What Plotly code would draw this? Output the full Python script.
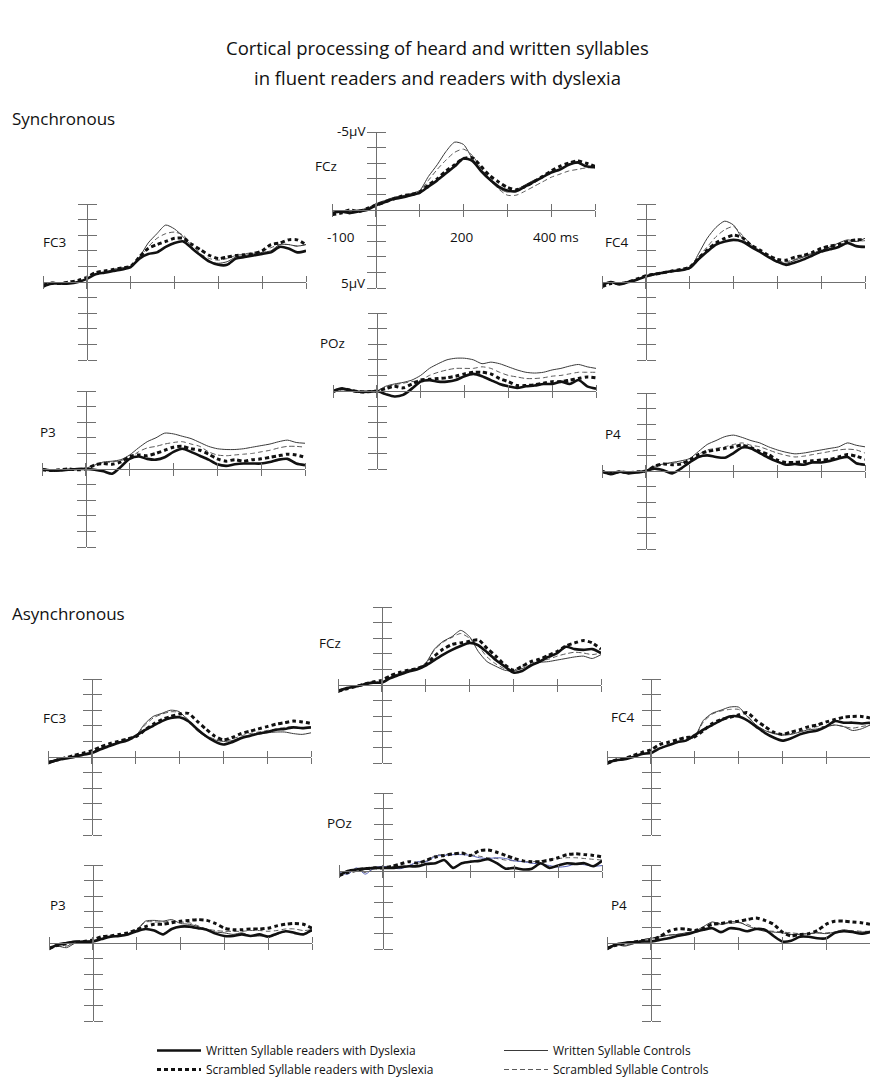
import plotly.graph_objects as go

# ---------------- data (µV, negative plotted upward) ----------------
TIME_MS = list(range(-100, 501, 20))
X_TICKS = [-100, 0, 100, 200, 300, 400, 500]
Y_TICKS = [-5, -4, -3, -2, -1, 0, 1, 2, 3, 4, 5]

CONDITIONS = [
    "Written Syllable readers with Dyslexia",
    "Written Syllable Controls",
    "Scrambled Syllable readers with Dyslexia",
    "Scrambled Syllable Controls",
]

# Synchronous
SYNC_FCZ_WD = [0.2, 0.1, 0.2, 0.1, 0.0, -0.3, -0.5, -0.7, -0.8, -0.95, -1.1, -1.5, -1.9, -2.35, -2.8, -3.3, -3.15, -2.5, -1.95, -1.5, -1.25, -1.2, -1.5, -1.8, -2.1, -2.4, -2.6, -2.9, -3.05, -2.8, -2.75]
SYNC_FCZ_WC = [0.2, 0.1, 0.1, 0.0, -0.1, -0.4, -0.6, -0.8, -0.9, -1.05, -1.25, -2.15, -2.9, -3.75, -4.35, -4.2, -3.3, -2.6, -1.9, -1.4, -1.15, -1.3, -1.6, -1.9, -2.1, -2.4, -2.6, -2.9, -3.0, -2.8, -2.7]
SYNC_FCZ_SD = [0.3, 0.2, 0.0, 0.1, -0.1, -0.3, -0.5, -0.7, -0.9, -1.0, -1.15, -1.6, -2.0, -2.5, -2.9, -3.3, -3.35, -2.8, -2.2, -1.8, -1.45, -1.3, -1.5, -1.8, -2.15, -2.5, -2.8, -3.0, -3.15, -3.0, -2.8]
SYNC_FCZ_SC = [0.2, 0.1, 0.1, 0.0, -0.1, -0.4, -0.6, -0.8, -0.9, -1.0, -1.2, -1.9, -2.6, -3.2, -3.7, -3.9, -3.5, -2.7, -2.0, -1.35, -0.95, -0.95, -1.2, -1.5, -1.8, -2.1, -2.3, -2.5, -2.6, -2.7, -2.7]

SYNC_FC3_WD = [0.3, 0.1, 0.1, 0.1, 0.0, -0.2, -0.5, -0.6, -0.7, -0.8, -0.95, -1.5, -1.8, -1.9, -2.25, -2.5, -2.6, -2.15, -1.7, -1.3, -1.1, -1.1, -1.5, -1.6, -1.7, -1.8, -1.9, -2.25, -2.15, -1.9, -2.0]
SYNC_FC3_WC = [0.3, 0.0, 0.1, 0.1, 0.0, -0.2, -0.5, -0.6, -0.8, -0.9, -1.0, -1.6, -2.5, -3.1, -3.65, -3.4, -2.9, -2.25, -1.7, -1.3, -1.2, -1.3, -1.6, -1.7, -1.8, -1.9, -2.0, -2.4, -2.4, -2.3, -2.4]
SYNC_FC3_SD = [0.2, 0.1, 0.1, 0.0, -0.1, -0.3, -0.6, -0.7, -0.8, -0.9, -1.0, -1.6, -2.15, -2.4, -2.6, -2.8, -2.8, -2.4, -2.05, -1.7, -1.5, -1.6, -1.7, -1.75, -1.8, -2.0, -2.4, -2.5, -2.7, -2.7, -2.4]
SYNC_FC3_SC = [0.3, 0.0, 0.1, 0.1, 0.0, -0.2, -0.5, -0.6, -0.8, -0.9, -1.0, -1.5, -2.25, -2.8, -3.1, -3.2, -3.0, -2.4, -1.8, -1.5, -1.4, -1.5, -1.7, -1.8, -1.9, -2.0, -2.2, -2.4, -2.4, -2.3, -2.4]

SYNC_FC4_WD = [0.2, 0.0, 0.15, 0.0, -0.15, -0.35, -0.5, -0.6, -0.7, -0.75, -0.9, -1.45, -1.95, -2.4, -2.6, -2.7, -2.6, -2.25, -1.95, -1.6, -1.3, -1.1, -1.25, -1.45, -1.7, -1.95, -2.1, -2.25, -2.5, -2.3, -2.25]
SYNC_FC4_WC = [0.2, 0.0, 0.1, 0.0, -0.2, -0.4, -0.5, -0.6, -0.7, -0.8, -0.85, -1.8, -2.8, -3.5, -3.9, -3.65, -2.8, -2.25, -1.95, -1.6, -1.3, -1.2, -1.4, -1.6, -1.8, -2.0, -2.25, -2.5, -2.7, -2.6, -2.8]
SYNC_FC4_SD = [0.3, 0.1, 0.1, 0.0, -0.2, -0.4, -0.5, -0.6, -0.7, -0.8, -0.95, -1.5, -2.05, -2.5, -2.8, -3.0, -2.85, -2.35, -2.05, -1.7, -1.45, -1.4, -1.6, -1.7, -1.9, -2.15, -2.3, -2.4, -2.6, -2.7, -2.7]
SYNC_FC4_SC = [0.2, 0.0, 0.1, 0.0, -0.2, -0.4, -0.5, -0.6, -0.7, -0.8, -0.9, -1.6, -2.25, -2.9, -3.35, -3.55, -3.0, -2.4, -2.0, -1.65, -1.35, -1.3, -1.45, -1.65, -1.85, -2.05, -2.2, -2.4, -2.55, -2.6, -2.65]

SYNC_POZ_WD = [0.0, -0.15, -0.05, 0.05, 0.05, 0.0, 0.2, 0.35, 0.25, -0.15, -0.6, -0.7, -0.6, -0.6, -0.7, -0.95, -1.1, -0.95, -0.7, -0.45, -0.3, -0.2, -0.3, -0.35, -0.45, -0.45, -0.6, -0.45, -0.7, -0.3, -0.15]
SYNC_POZ_WC = [0.0, -0.1, 0.0, 0.05, 0.1, 0.0, -0.3, -0.45, -0.55, -0.7, -1.0, -1.45, -1.75, -2.0, -2.1, -2.1, -2.0, -1.75, -1.85, -1.75, -1.55, -1.35, -1.2, -1.15, -1.2, -1.35, -1.45, -1.6, -1.7, -1.55, -1.45]
SYNC_POZ_SD = [0.05, -0.15, -0.05, 0.05, 0.05, 0.0, -0.15, -0.3, -0.2, -0.45, -0.7, -0.75, -0.8, -0.85, -0.95, -1.1, -1.2, -1.2, -1.1, -0.8, -0.6, -0.35, -0.35, -0.4, -0.5, -0.6, -0.6, -0.7, -0.8, -0.9, -0.85]
SYNC_POZ_SC = [0.0, -0.1, 0.0, 0.05, 0.1, 0.0, -0.25, -0.4, -0.5, -0.6, -0.7, -1.0, -1.2, -1.35, -1.45, -1.45, -1.45, -1.55, -1.45, -1.2, -1.0, -0.9, -0.8, -0.8, -0.85, -0.95, -1.0, -1.1, -1.2, -1.2, -1.2]

SYNC_P3_WD = [0.0, 0.1, 0.1, 0.05, 0.0, 0.0, 0.05, 0.15, 0.3, -0.15, -0.65, -0.8, -0.65, -0.6, -0.75, -1.1, -1.3, -1.1, -0.85, -0.6, -0.3, -0.2, -0.3, -0.35, -0.35, -0.35, -0.45, -0.6, -0.65, -0.35, -0.25]
SYNC_P3_WC = [0.0, 0.1, 0.1, 0.05, 0.0, -0.05, -0.25, -0.45, -0.5, -0.6, -0.9, -1.35, -1.75, -2.0, -2.3, -2.25, -2.1, -1.95, -1.7, -1.45, -1.3, -1.25, -1.25, -1.3, -1.4, -1.5, -1.6, -1.75, -1.85, -1.7, -1.65]
SYNC_P3_SD = [0.05, 0.1, 0.05, 0.0, 0.05, 0.0, -0.25, -0.35, -0.3, -0.45, -0.8, -0.9, -0.85, -1.0, -1.2, -1.4, -1.45, -1.3, -1.2, -0.95, -0.65, -0.5, -0.6, -0.5, -0.6, -0.65, -0.75, -0.85, -0.95, -0.9, -0.75]
SYNC_P3_SC = [0.0, 0.1, 0.1, 0.05, 0.0, -0.05, -0.25, -0.4, -0.45, -0.55, -0.7, -1.1, -1.35, -1.45, -1.6, -1.7, -1.75, -1.6, -1.45, -1.1, -0.9, -0.85, -0.9, -0.95, -1.0, -1.1, -1.2, -1.35, -1.45, -1.45, -1.4]

SYNC_P4_WD = [0.0, 0.2, 0.05, 0.15, 0.1, 0.0, -0.15, -0.05, 0.15, -0.15, -0.55, -0.9, -1.0, -0.9, -0.85, -1.15, -1.5, -1.45, -1.15, -0.85, -0.6, -0.4, -0.45, -0.4, -0.55, -0.55, -0.65, -0.8, -0.9, -0.5, -0.4]
SYNC_P4_WC = [0.0, 0.15, 0.05, 0.1, 0.05, -0.05, -0.3, -0.45, -0.55, -0.65, -0.8, -1.25, -1.7, -1.95, -2.2, -2.3, -2.15, -1.95, -1.8, -1.55, -1.35, -1.2, -1.1, -1.15, -1.25, -1.35, -1.45, -1.55, -1.8, -1.65, -1.55]
SYNC_P4_SD = [0.05, 0.15, 0.05, 0.1, 0.05, 0.0, -0.3, -0.45, -0.4, -0.45, -0.7, -1.05, -1.25, -1.35, -1.45, -1.55, -1.65, -1.5, -1.25, -1.05, -0.7, -0.55, -0.55, -0.6, -0.65, -0.7, -0.75, -0.9, -1.05, -0.95, -0.75]
SYNC_P4_SC = [0.0, 0.15, 0.05, 0.1, 0.05, -0.05, -0.3, -0.45, -0.5, -0.55, -0.55, -1.05, -1.35, -1.45, -1.55, -1.7, -1.8, -1.65, -1.55, -1.35, -1.15, -1.0, -0.9, -0.95, -1.05, -1.15, -1.25, -1.35, -1.4, -1.35, -1.15]

# Asynchronous
ASYNC_FCZ_WD = [0.4, 0.2, 0.1, -0.05, -0.15, -0.15, -0.45, -0.65, -0.85, -1.0, -1.25, -1.6, -1.95, -2.25, -2.5, -2.7, -2.55, -2.1, -1.6, -1.2, -0.8, -0.9, -1.25, -1.5, -1.8, -2.05, -2.45, -2.3, -2.25, -2.3, -2.05]
ASYNC_FCZ_WC = [0.3, 0.2, 0.05, -0.05, -0.2, -0.15, -0.5, -0.75, -0.95, -1.05, -1.4, -2.3, -2.8, -3.1, -3.5, -3.1, -2.15, -1.5, -1.2, -0.95, -0.9, -1.05, -1.3, -1.45, -1.5, -1.6, -1.7, -1.8, -1.85, -1.7, -1.95]
ASYNC_FCZ_SD = [0.4, 0.25, 0.1, -0.05, -0.2, -0.3, -0.6, -0.8, -0.95, -1.05, -1.3, -1.85, -2.3, -2.6, -2.7, -2.8, -2.9, -2.35, -1.85, -1.3, -0.95, -1.2, -1.5, -1.65, -1.9, -2.15, -2.5, -2.7, -2.85, -2.7, -2.3]
ASYNC_FCZ_SC = [0.3, 0.2, 0.05, -0.05, -0.2, -0.2, -0.5, -0.75, -0.95, -1.05, -1.35, -2.25, -2.75, -3.05, -3.3, -3.0, -2.5, -1.8, -1.35, -1.05, -0.95, -1.2, -1.4, -1.55, -1.65, -1.85, -2.0, -2.1, -2.05, -1.95, -2.05]

ASYNC_FC3_WD = [0.4, 0.2, 0.1, 0.0, -0.15, -0.25, -0.5, -0.7, -0.9, -1.05, -1.35, -1.7, -2.0, -2.3, -2.5, -2.55, -2.3, -1.8, -1.35, -1.0, -0.8, -0.95, -1.2, -1.35, -1.5, -1.6, -1.75, -1.8, -1.9, -1.85, -1.9]
ASYNC_FC3_WC = [0.3, 0.15, 0.05, -0.05, -0.2, -0.3, -0.55, -0.75, -0.95, -1.1, -1.35, -2.1, -2.6, -2.8, -3.0, -2.9, -2.3, -1.7, -1.3, -1.1, -1.0, -1.05, -1.25, -1.4, -1.45, -1.55, -1.6, -1.6, -1.5, -1.45, -1.55]
ASYNC_FC3_SD = [0.35, 0.2, 0.05, -0.1, -0.25, -0.4, -0.65, -0.85, -1.0, -1.15, -1.3, -1.7, -2.1, -2.4, -2.6, -2.75, -2.8, -2.3, -1.8, -1.35, -1.1, -1.25, -1.5, -1.65, -1.8, -1.95, -2.1, -2.2, -2.3, -2.25, -2.15]
ASYNC_FC3_SC = [0.3, 0.15, 0.05, -0.05, -0.2, -0.3, -0.55, -0.75, -0.95, -1.1, -1.3, -2.0, -2.5, -2.75, -2.9, -2.85, -2.4, -1.8, -1.4, -1.15, -1.05, -1.15, -1.35, -1.5, -1.6, -1.7, -1.8, -1.9, -1.95, -1.85, -1.9]

ASYNC_FC4_WD = [0.4, 0.2, 0.15, 0.0, -0.2, -0.25, -0.55, -0.75, -0.95, -1.05, -1.4, -1.75, -2.05, -2.35, -2.6, -2.6, -2.35, -1.95, -1.55, -1.25, -1.05, -1.2, -1.45, -1.6, -1.7, -1.95, -2.3, -2.2, -2.2, -2.15, -2.2]
ASYNC_FC4_WC = [0.3, 0.2, 0.1, 0.0, -0.2, -0.3, -0.55, -0.75, -0.95, -1.05, -1.3, -2.35, -2.8, -3.0, -3.2, -3.2, -2.6, -2.05, -1.7, -1.5, -1.4, -1.45, -1.6, -1.75, -1.8, -1.95, -2.05, -1.95, -1.7, -1.8, -2.05]
ASYNC_FC4_SD = [0.4, 0.2, 0.1, -0.1, -0.3, -0.45, -0.8, -0.95, -1.1, -1.25, -1.3, -1.7, -2.15, -2.4, -2.55, -2.7, -2.85, -2.35, -1.95, -1.6, -1.45, -1.6, -1.75, -1.95, -2.05, -2.25, -2.4, -2.55, -2.6, -2.6, -2.5]
ASYNC_FC4_SC = [0.3, 0.2, 0.1, 0.0, -0.2, -0.3, -0.55, -0.75, -0.95, -1.05, -1.3, -2.25, -2.75, -2.95, -3.05, -3.05, -2.65, -2.05, -1.7, -1.55, -1.45, -1.5, -1.65, -1.8, -1.95, -1.95, -2.05, -1.95, -1.85, -1.95, -2.05]

ASYNC_POZ_WD = [0.3, 0.0, -0.1, -0.15, -0.2, -0.2, -0.2, -0.25, -0.3, -0.3, -0.45, -0.5, -0.7, -0.2, -0.5, -0.6, -0.65, -0.75, -0.5, -0.15, -0.2, -0.1, -0.15, -0.5, -0.2, -0.35, -0.5, -0.45, -0.5, -0.3, -0.65]
ASYNC_POZ_WC = [0.1, 0.2, -0.2, 0.2, -0.2, -0.3, -0.2, -0.15, -0.35, -0.6, -0.6, -0.95, -1.0, -1.05, -1.05, -1.0, -0.85, -0.8, -0.85, -0.8, -0.65, -0.6, -0.5, -0.45, -0.35, -0.25, -0.3, -0.45, -0.4, -0.3, -0.35]
ASYNC_POZ_SD = [0.3, 0.1, -0.05, -0.15, -0.2, -0.2, -0.3, -0.45, -0.6, -0.5, -0.7, -0.9, -1.0, -1.1, -1.15, -1.0, -1.3, -1.35, -1.2, -1.0, -0.8, -0.65, -0.6, -0.6, -0.7, -0.85, -1.05, -1.1, -1.05, -1.0, -0.9]
ASYNC_POZ_SC = [0.1, 0.15, -0.1, 0.1, -0.15, -0.25, -0.25, -0.3, -0.35, -0.5, -0.65, -1.0, -1.05, -1.1, -1.15, -1.05, -0.95, -0.85, -0.8, -0.7, -0.65, -0.6, -0.6, -0.65, -0.75, -0.8, -0.85, -0.85, -0.8, -0.75, -0.7]

ASYNC_P3_WD = [0.4, 0.1, 0.0, -0.1, -0.05, -0.1, -0.25, -0.4, -0.45, -0.55, -0.75, -0.9, -0.8, -0.55, -0.9, -1.05, -1.05, -0.95, -0.85, -0.6, -0.45, -0.45, -0.55, -0.45, -0.55, -0.4, -0.6, -0.75, -0.65, -0.55, -0.85]
ASYNC_P3_WC = [0.3, 0.2, 0.3, 0.0, -0.15, -0.15, -0.3, -0.45, -0.5, -0.6, -0.85, -1.4, -1.45, -1.4, -1.5, -1.25, -1.2, -1.05, -0.85, -0.7, -0.65, -0.55, -0.65, -0.45, -0.45, -0.45, -0.55, -0.75, -0.65, -0.6, -0.75]
ASYNC_P3_SD = [0.35, 0.15, 0.05, -0.05, -0.1, -0.2, -0.4, -0.45, -0.55, -0.65, -0.85, -1.05, -1.2, -1.2, -1.3, -1.4, -1.45, -1.5, -1.45, -1.25, -0.95, -0.85, -0.85, -0.9, -0.9, -0.95, -1.1, -1.2, -1.25, -1.2, -0.95]
ASYNC_P3_SC = [0.3, 0.2, 0.2, 0.0, -0.15, -0.15, -0.3, -0.45, -0.5, -0.6, -0.8, -1.35, -1.35, -1.35, -1.4, -1.35, -1.3, -1.1, -0.9, -0.8, -0.75, -0.75, -0.75, -0.8, -0.8, -0.75, -0.8, -0.9, -0.9, -0.8, -0.85]

ASYNC_P4_WD = [0.4, 0.1, 0.0, -0.05, -0.1, -0.1, -0.2, -0.3, -0.45, -0.55, -0.7, -0.85, -0.95, -0.7, -0.95, -0.9, -0.75, -0.9, -0.85, -0.45, -0.1, -0.15, -0.4, -0.4, -0.3, -0.3, -0.65, -0.75, -0.7, -0.6, -0.7]
ASYNC_P4_WC = [0.3, 0.1, 0.2, 0.05, -0.2, -0.3, -0.4, -0.5, -0.55, -0.65, -0.75, -1.05, -1.35, -1.2, -1.35, -1.35, -1.1, -0.9, -0.75, -0.7, -0.65, -0.55, -0.55, -0.6, -0.65, -0.6, -0.7, -0.85, -0.75, -0.7, -0.75]
ASYNC_P4_SD = [0.35, 0.15, 0.05, -0.05, -0.15, -0.2, -0.4, -0.75, -0.9, -0.9, -0.8, -0.95, -1.2, -1.25, -1.35, -1.4, -1.5, -1.6, -1.45, -1.2, -0.7, -0.45, -0.55, -0.6, -0.8, -1.2, -1.4, -1.4, -1.35, -1.3, -1.2]
ASYNC_P4_SC = [0.3, 0.1, 0.15, 0.05, -0.2, -0.3, -0.4, -0.5, -0.55, -0.65, -0.75, -0.95, -1.3, -1.25, -1.25, -1.3, -1.2, -0.95, -0.8, -0.75, -0.7, -0.65, -0.6, -0.6, -0.65, -0.65, -0.7, -0.75, -0.8, -0.75, -0.75]

# ---------------- layout constants (pixels) ----------------
W, H = 870, 1092
PANEL_W, PANEL_H = 263, 156
AXIS_COLOR = "#707070"
FONT = "Open Sans"

# (electrode, x of -100 ms, y of 0 µV, series [WD, WC, SD, SC], label x-left, label y-center)
PANELS = [
    ("FCz", 332, 210, [SYNC_FCZ_WD, SYNC_FCZ_WC, SYNC_FCZ_SD, SYNC_FCZ_SC], 313, 166),
    ("FC3", 43, 282, [SYNC_FC3_WD, SYNC_FC3_WC, SYNC_FC3_SD, SYNC_FC3_SC], 41, 242),
    ("FC4", 602, 282, [SYNC_FC4_WD, SYNC_FC4_WC, SYNC_FC4_SD, SYNC_FC4_SC], 603, 242),
    ("POz", 333, 391, [SYNC_POZ_WD, SYNC_POZ_WC, SYNC_POZ_SD, SYNC_POZ_SC], 318, 343),
    ("P3", 42, 469, [SYNC_P3_WD, SYNC_P3_WC, SYNC_P3_SD, SYNC_P3_SC], 38, 432),
    ("P4", 602, 471, [SYNC_P4_WD, SYNC_P4_WC, SYNC_P4_SD, SYNC_P4_SC], 603, 434),
    ("FCz", 338, 685, [ASYNC_FCZ_WD, ASYNC_FCZ_WC, ASYNC_FCZ_SD, ASYNC_FCZ_SC], 317, 643),
    ("FC3", 48, 757, [ASYNC_FC3_WD, ASYNC_FC3_WC, ASYNC_FC3_SD, ASYNC_FC3_SC], 41, 718),
    ("FC4", 607, 757, [ASYNC_FC4_WD, ASYNC_FC4_WC, ASYNC_FC4_SD, ASYNC_FC4_SC], 609, 717),
    ("POz", 339, 871, [ASYNC_POZ_WD, ASYNC_POZ_WC, ASYNC_POZ_SD, ASYNC_POZ_SC], 325, 823),
    ("P3", 49, 943, [ASYNC_P3_WD, ASYNC_P3_WC, ASYNC_P3_SD, ASYNC_P3_SC], 48, 905),
    ("P4", 607, 943, [ASYNC_P4_WD, ASYNC_P4_WC, ASYNC_P4_SD, ASYNC_P4_SC], 609, 905),
]

STYLES = [
    dict(color="#111111", width=2.6, dash="solid"),      # Written dyslexia
    dict(color="#3a3a3a", width=1.0, dash="solid"),      # Written controls
    dict(color="#111111", width=3.0, dash="4px,3px"),    # Scrambled dyslexia
    dict(color="#5a5a5a", width=1.0, dash="5px,3px"),    # Scrambled controls
]
DRAW_ORDER = [3, 1, 2, 0]


def ax_key(letter, i):
    return f"{letter}axis" + ("" if i == 1 else str(i))


def ax_ref(letter, i):
    return letter + ("" if i == 1 else str(i))


fig = go.Figure()
layout = {}

for k, (name, xl, yz, series, lx, ly) in enumerate(PANELS):
    i1, i2 = 2 * k + 1, 2 * k + 2
    xd = [xl / W, min(1.0, (xl + PANEL_W) / W)]
    yd = [1 - (yz + PANEL_H / 2) / H, 1 - (yz - PANEL_H / 2) / H]
    xpos = 1 - yz / H
    ypos = (xl + PANEL_W / 6) / W

    common_x = dict(domain=xd, range=[-100, 500], anchor="free", position=xpos,
                    ticks="outside", ticklen=6, tickwidth=1, tickcolor=AXIS_COLOR,
                    tickvals=X_TICKS, showticklabels=False, showgrid=False,
                    zeroline=False, fixedrange=True)
    common_y = dict(domain=yd, range=[5, -5], anchor="free", position=ypos,
                    ticks="outside", ticklen=9, tickwidth=1, tickcolor=AXIS_COLOR,
                    tickvals=Y_TICKS, showticklabels=False, showgrid=False,
                    zeroline=False, fixedrange=True)
    layout[ax_key("x", i1)] = dict(common_x, side="bottom", showline=True,
                                   linecolor=AXIS_COLOR, linewidth=1)
    layout[ax_key("x", i2)] = dict(common_x, side="top", showline=False,
                                   overlaying=ax_ref("x", i1))
    layout[ax_key("y", i1)] = dict(common_y, side="left", showline=True,
                                   linecolor=AXIS_COLOR, linewidth=1)
    layout[ax_key("y", i2)] = dict(common_y, side="right", showline=False,
                                   overlaying=ax_ref("y", i1))

    for c in DRAW_ORDER:
        st = dict(STYLES[c])
        if k == 9 and c == 1:
            st["color"] = "#5560b8"
        fig.add_trace(go.Scatter(
            x=TIME_MS, y=series[c], mode="lines",
            line=dict(color=st["color"], width=st["width"], dash=st["dash"],
                      shape="spline", smoothing=0.7),
            name=CONDITIONS[c], legendgroup=CONDITIONS[c], legendrank=c + 1,
            showlegend=(k == 0), hoverinfo="skip",
            xaxis=ax_ref("x", i1), yaxis=ax_ref("y", i1)))
    fig.add_trace(go.Scatter(x=[], y=[], showlegend=False, hoverinfo="skip",
                             xaxis=ax_ref("x", i2), yaxis=ax_ref("y", i2)))

annotations = []


def text(t, x, y, size, xanchor="left", yanchor="middle", color="#111"):
    annotations.append(dict(text=t, x=x / W, y=1 - y / H, xref="paper", yref="paper",
                            xanchor=xanchor, yanchor=yanchor, showarrow=False,
                            font=dict(family=FONT, size=size, color=color)))


text("Cortical processing of heard and written syllables", 437, 48, 18.5, "center")
text("in fluent readers and readers with dyslexia", 437, 78, 18.5, "center")
text("Synchronous", 10, 118, 17)
text("Asynchronous", 10, 613, 17)
for name, xl, yz, series, lx, ly in PANELS:
    text(name, lx, ly, 13.5)
text("-5µV", 368, 131, 13.5, "right")
text("5µV", 368, 283, 13.5, "right")
text("-100", 341, 237, 13.5, "center")
text("200", 462, 237, 13.5, "center")
text("400 ms", 531, 237, 13.5, "left")

fig.update_layout(
    width=W, height=H, margin=dict(l=0, r=0, t=0, b=0),
    paper_bgcolor="white", plot_bgcolor="rgba(0,0,0,0)",
    font=dict(family=FONT, color="#111"),
    annotations=annotations,
    showlegend=True,
    legend=dict(orientation="h", x=152 / W, xanchor="left", y=1 - 1036 / H,
                yanchor="top", entrywidth=288, entrywidthmode="pixels",
                itemwidth=44, font=dict(family=FONT, size=12, color="#111"),
                bgcolor="rgba(0,0,0,0)", tracegroupgap=0),
    **layout,
)

fig.write_html("out.html")
